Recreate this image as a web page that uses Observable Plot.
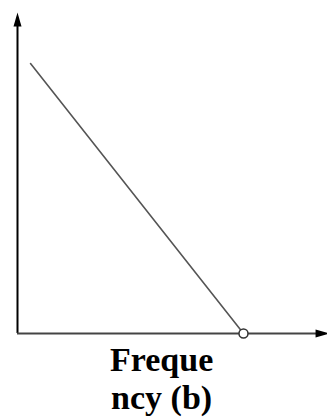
<!DOCTYPE html>
<html>
<head>
<meta charset="utf-8">
<script src="https://cdn.jsdelivr.net/npm/d3@7"></script>
<script src="https://cdn.jsdelivr.net/npm/@observablehq/plot@0.6"></script>
<style>
  html, body { margin: 0; padding: 0; background: #fff; }
</style>
</head>
<body>
<div id="warm" aria-hidden="true" style="position:absolute;left:-1000px;top:0;font-family:'Liberation Serif';font-weight:bold;font-size:34px;color:#000">Freque ncy (b)</div>
<div id="chart"></div>
<script>
// Data (abstract units on 0–100 scales)
const lineX = [4.2, 72.9];
const lineY = [84.1, 0];
const interceptX = [72.9];
const interceptY = [0];
const yAxisTop = [95.6];
const xAxisRight = [96.8];
const yArrowPos = [97.8];
const xArrowPos = [98.4];
const labelLines = ["Freque", "ncy (b)"];
const labelX = [46.5];
const labelDy = [13, 51];

const lineData = lineX.map((x, i) => ({x, y: lineY[i]}));

const arrowHead = {
  draw(context, size) {
    context.moveTo(0, -7);
    context.lineTo(4, 7);
    context.lineTo(-4, 7);
    context.closePath();
  }
};

// force layout of the warm-up text, then give the font time to load
document.getElementById("warm").getBoundingClientRect();
const t0 = Date.now();
while (Date.now() - t0 < 600) { /* wait */ }

function render() {
  const chart = Plot.plot({
    width: 327,
    height: 418,
    marginLeft: 17,
    marginRight: 0,
    marginTop: 12,
    marginBottom: 85,
    x: {domain: [0, 100], axis: null},
    y: {domain: [0, 100], axis: null},
    marks: [
      Plot.ruleX([0], {y1: 0, y2: yAxisTop[0], stroke: "#000", strokeWidth: 2}),
      Plot.dot([0], {x: d => d, y: () => yArrowPos[0], symbol: arrowHead, fill: "#000", stroke: "none", r: 4}),
      Plot.ruleY([0], {x1: 0, x2: xAxisRight[0], stroke: "#444", strokeWidth: 2}),
      Plot.dot([0], {x: () => xArrowPos[0], y: d => d, symbol: arrowHead, fill: "#000", stroke: "none", r: 4, rotate: 90}),
      Plot.line(lineData, {x: "x", y: "y", stroke: "#555", strokeWidth: 1.6}),
      Plot.dot(interceptX.map((x, i) => ({x, y: interceptY[i]})), {x: "x", y: "y", r: 4.5, stroke: "#333", strokeWidth: 1.5, fill: "#fff"}),
      ...labelLines.map((t, i) => Plot.text([t], {
        x: () => labelX[0], frameAnchor: "bottom", lineAnchor: "top", dy: labelDy[i],
        text: d => d,
        fontFamily: "Liberation Serif", fontWeight: "bold", fontSize: 34, fill: "#000"
      }))
    ]
  });
  document.getElementById("chart").replaceChildren(chart);
}
render();
</script>
</body>
</html>
